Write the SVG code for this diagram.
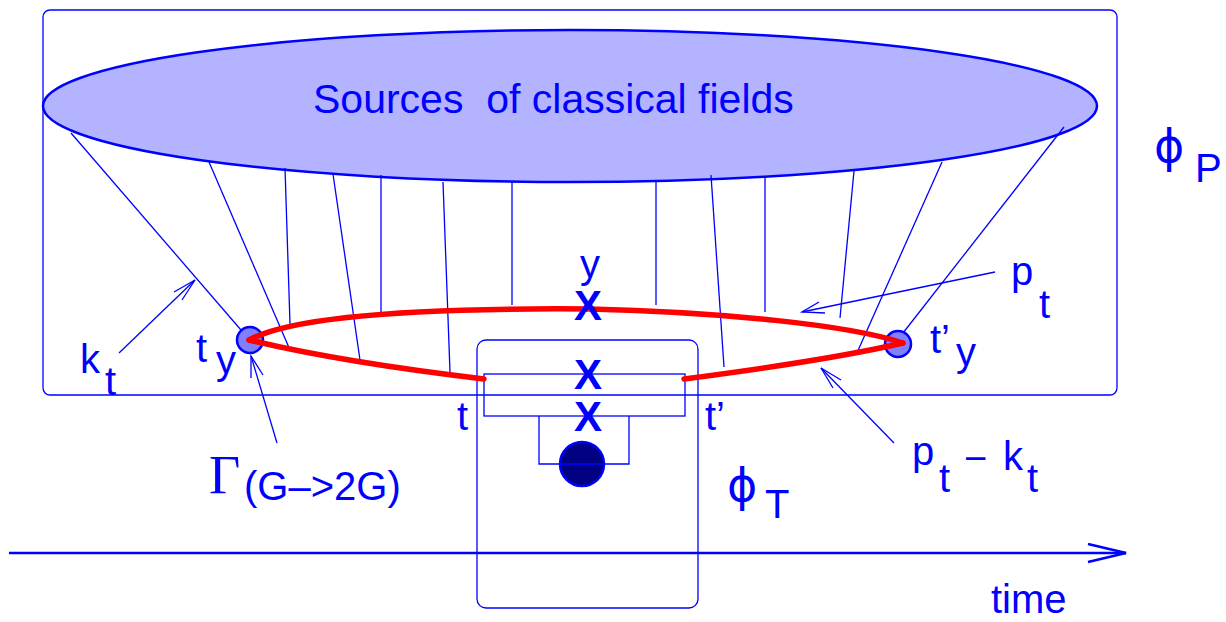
<svg xmlns="http://www.w3.org/2000/svg" width="1226" height="622" viewBox="0 0 1226 622">
<style>
.ln{fill:none;stroke:#0000ff;stroke-width:1.3}
.bx{fill:none;stroke:#0000ff;stroke-width:1.3}
.red{fill:none;stroke:#ff0000;stroke-width:5.5;stroke-linecap:round;stroke-linejoin:round}
.tx{font-family:"Liberation Sans",Arial,sans-serif;font-size:40px;fill:#0000ff}
.xm{font-family:"Liberation Sans",Arial,sans-serif;font-size:42px;font-weight:bold;fill:#0000ff}
.phi{font-family:"DejaVu Sans",sans-serif;font-size:46px;fill:#0000ff}
.blob{fill:#8080ff;stroke:#0000ff;stroke-width:2.5}
</style>
<rect width="1226" height="622" fill="#ffffff"/>
<g id="region-P">
<rect class="bx" x="43" y="10" width="1074" height="385" rx="7"/>
</g>
<g id="sources">
<ellipse cx="570" cy="106" rx="527" ry="76" fill="#b3b3ff" stroke="#0000ff" stroke-width="2.5"/>
<text class="tx" x="313" y="113" style="font-size:41px" xml:space="preserve">Sources  of classical fields</text>
</g>
<g id="region-T">
<rect class="bx" x="477" y="340" width="221" height="268" rx="9"/>
<rect class="bx" x="484" y="374" width="201" height="42"/>
<circle cx="582" cy="464" r="22" fill="#000080" stroke="#0000ff" stroke-width="2.5"/>
<polyline class="bx" points="539,416 539,464 629,464 629,416"/>
</g>
<g id="connectors">
<g id="field-lines">
<line class="ln" x1="71" y1="133" x2="241" y2="330"/>
<line class="ln" x1="209" y1="162" x2="290" y2="350"/>
<line class="ln" x1="285" y1="168" x2="290" y2="324"/>
<line class="ln" x1="333" y1="174" x2="360" y2="360"/>
<line class="ln" x1="381" y1="175" x2="381" y2="312"/>
<line class="ln" x1="443" y1="182" x2="450" y2="372"/>
<line class="ln" x1="512" y1="182" x2="512" y2="305"/>
<line class="ln" x1="656" y1="182" x2="656" y2="305"/>
<line class="ln" x1="711" y1="175" x2="724" y2="367"/>
<line class="ln" x1="765" y1="177" x2="765" y2="312"/>
<line class="ln" x1="854" y1="171" x2="840" y2="318"/>
<line class="ln" x1="942" y1="162" x2="856" y2="355"/>
<line class="ln" x1="1064" y1="127" x2="903" y2="333"/>
</g>
<g id="label-arrows">
<line class="ln" x1="119" y1="353" x2="195" y2="280"/>
<polyline class="ln" points="174,292 195,280 182,300"/>
<line class="ln" x1="995" y1="272" x2="802" y2="312"/>
<polyline class="ln" points="819,302 802,312 825,313"/>
<line class="ln" x1="277" y1="443" x2="251" y2="356"/>
<polyline class="ln" points="251,378 251,356 263,375"/>
<line class="ln" x1="894" y1="443" x2="821" y2="368"/>
<polyline class="ln" points="841,380 821,368 833,388"/>
</g>
<g id="time-axis">
<line x1="9" y1="553" x2="1126" y2="553" stroke="#0000ff" stroke-width="2.5"/>
<polyline points="1088,544 1126,553 1088,562" fill="none" stroke="#0000ff" stroke-width="2.5"/>
</g>
</g>
<g id="vertex-left"><circle class="blob" cx="250" cy="340" r="13"/></g>
<g id="vertex-right"><circle class="blob" cx="898" cy="344" r="13"/></g>
<g id="loop">
<path class="red" d="M 249 340 C 300 312 460 308 590 309 C 720 312 850 325 903 343"/>
<path class="red" d="M 249 340 Q 340 362 484 379"/>
<path class="red" d="M 684 379 Q 830 360 903 343"/>
</g>
<g id="labels">
<text class="xm" x="588" y="320" text-anchor="middle">X</text>
<text class="xm" x="588" y="389" text-anchor="middle">X</text>
<text class="xm" x="588" y="431" text-anchor="middle">X</text>
<text class="tx" x="580" y="278">y</text>
<text class="tx" x="80" y="373">k</text>
<text class="tx" x="105" y="395">t</text>
<text class="tx" x="196" y="362">t</text>
<text class="tx" x="216" y="374">y</text>
<text class="tx" x="930" y="353">t’</text>
<text class="tx" x="956" y="366">y</text>
<text class="tx" x="457" y="430">t</text>
<text class="tx" x="705" y="430">t’</text>
<text class="tx" x="1011" y="285">p</text>
<text class="tx" x="1039" y="318">t</text>
<text class="tx" x="912" y="465">p</text>
<text class="tx" x="939" y="492">t</text>
<text class="tx" x="964" y="472">−</text>
<text class="tx" x="1003" y="470">k</text>
<text class="tx" x="1027" y="492">t</text>
<text x="209" y="493" font-family="'Liberation Serif','Times New Roman',serif" font-size="54" fill="#0000ff">Γ</text>
<text class="tx" x="244" y="500">(G–&gt;2G)</text>
<text class="phi" x="1154" y="162">ϕ</text>
<text class="tx" x="1195" y="182">P</text>
<text class="phi" x="727" y="501">ϕ</text>
<text class="tx" x="765" y="518">T</text>
<text class="tx" x="991" y="613">time</text>
</g>
</svg>
